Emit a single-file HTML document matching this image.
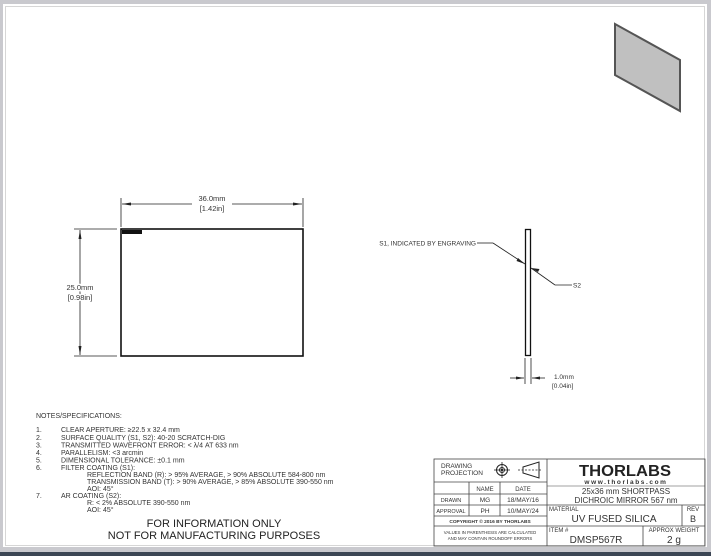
<!DOCTYPE html>
<html><head><meta charset="utf-8"><style>
html,body{margin:0;padding:0;background:#c9c9ce;}
svg{display:block;font-family:"Liberation Sans",sans-serif;}
</style></head><body>
<svg width="711" height="556" viewBox="0 0 711 556" xmlns="http://www.w3.org/2000/svg">
<rect x="0" y="0" width="711" height="556" fill="#c9c9ce"/>
<rect x="3" y="4" width="704" height="543" fill="#fff"/>
<rect x="0" y="552" width="711" height="4" fill="#3c4654"/>
<rect x="5.5" y="6.5" width="699" height="539" fill="none" stroke="#d6d6d6" stroke-width="1"/>

<!-- iso view -->
<polygon points="615,24 680,60 680,111 615,75" fill="#c0c0c0" stroke="#555" stroke-width="2"/>

<!-- front view -->
<rect x="121" y="229" width="182" height="127" fill="none" stroke="#111" stroke-width="1.6"/>
<rect x="122" y="230" width="20" height="4" fill="#111"/>
<g stroke="#222" stroke-width="0.8" fill="none">
<line x1="121" y1="198" x2="121" y2="227"/>
<line x1="303" y1="198" x2="303" y2="227"/>
<line x1="122" y1="204" x2="192" y2="204"/>
<line x1="232" y1="204" x2="302" y2="204"/>
<line x1="74" y1="229" x2="117" y2="229"/>
<line x1="74" y1="356" x2="117" y2="356"/>
<line x1="80" y1="230" x2="80" y2="355"/>
</g>
<g fill="#222">
<polygon points="122,204 131,202.5 131,205.5"/>
<polygon points="302,204 293,202.5 293,205.5"/>
<polygon points="80,230 78.5,239 81.5,239"/>
<polygon points="80,355 78.5,346 81.5,346"/>
</g>
<g font-size="7.5" fill="#333" text-anchor="middle">
<text x="212" y="201">36.0mm</text>
<text x="212" y="211">[1.42in]</text>
<text x="80" y="290" fill="#333" style="paint-order:stroke" stroke="#fff" stroke-width="3">25.0mm</text>
<text x="80" y="300" style="paint-order:stroke" stroke="#fff" stroke-width="3">[0.98in]</text>
</g>

<!-- side view -->
<rect x="525.5" y="229.5" width="5" height="126" fill="#fff" stroke="#111" stroke-width="1.3"/>
<g stroke="#222" stroke-width="0.8" fill="none">
<line x1="477" y1="243" x2="493" y2="243"/>
<line x1="493" y1="243" x2="525" y2="264"/>
<line x1="531" y1="268" x2="555" y2="285"/>
<line x1="555" y1="285" x2="572" y2="285"/>
<line x1="525" y1="358" x2="525" y2="384"/>
<line x1="531" y1="358" x2="531" y2="384"/>
<line x1="510" y1="378" x2="524" y2="378"/>
<line x1="532" y1="378" x2="545" y2="378"/>
</g>
<g fill="#222">
<polygon points="525,264 518,258 516.5,261"/>
<polygon points="531,268 538,272 539.5,269"/>
<polygon points="524,378 516,376.5 516,379.5"/>
<polygon points="532,378 540,376.5 540,379.5"/>
</g>
<g font-size="6.5" fill="#333">
<text x="476" y="245.5" text-anchor="end">S1, INDICATED BY ENGRAVING</text>
<text x="573" y="287.5">S2</text>
<text x="554" y="379">1.0mm</text>
<text x="552" y="388">[0.04in]</text>
</g>

<!-- notes -->
<g font-size="7" fill="#333">
<text x="36" y="418">NOTES/SPECIFICATIONS:</text>
<text x="36" y="432">1.</text><text x="61" y="432">CLEAR APERTURE: ≥22.5 x 32.4 mm</text>
<text x="36" y="440">2.</text><text x="61" y="440">SURFACE QUALITY (S1, S2): 40-20 SCRATCH-DIG</text>
<text x="36" y="447.5">3.</text><text x="61" y="447.5">TRANSMITTED WAVEFRONT ERROR: &lt; λ/4 AT 633 nm</text>
<text x="36" y="455">4.</text><text x="61" y="455">PARALLELISM: &lt;3 arcmin</text>
<text x="36" y="462.5">5.</text><text x="61" y="462.5">DIMENSIONAL TOLERANCE: ±0.1 mm</text>
<text x="36" y="470">6.</text><text x="61" y="470">FILTER COATING (S1):</text>
<text x="87" y="477">REFLECTION BAND (R): &gt; 95% AVERAGE, &gt; 90% ABSOLUTE 584-800 nm</text>
<text x="87" y="484">TRANSMISSION BAND (T): &gt; 90% AVERAGE, &gt; 85% ABSOLUTE 390-550 nm</text>
<text x="87" y="491">AOI: 45°</text>
<text x="36" y="498">7.</text><text x="61" y="498">AR COATING (S2):</text>
<text x="87" y="505">R: &lt; 2% ABSOLUTE 390-550 nm</text>
<text x="87" y="512">AOI: 45°</text>
</g>
<g font-size="11" fill="#222" text-anchor="middle">
<text x="214" y="527">FOR INFORMATION ONLY</text>
<text x="214" y="539">NOT FOR MANUFACTURING PURPOSES</text>
</g>

<!-- title block -->
<g stroke="#444" stroke-width="0.8" fill="none">
<rect x="434" y="459" width="271" height="87"/>
<line x1="547" y1="459" x2="547" y2="546"/>
<line x1="434" y1="482" x2="547" y2="482"/>
<line x1="434" y1="494" x2="547" y2="494"/>
<line x1="434" y1="505" x2="547" y2="505"/>
<line x1="434" y1="516" x2="547" y2="516"/>
<line x1="434" y1="526" x2="547" y2="526"/>
<line x1="469" y1="482" x2="469" y2="516"/>
<line x1="500" y1="482" x2="500" y2="516"/>
<line x1="547" y1="486" x2="705" y2="486" stroke-width="0.5"/>
<line x1="547" y1="505" x2="705" y2="505"/>
<line x1="547" y1="526" x2="705" y2="526"/>
<line x1="682" y1="505" x2="682" y2="526"/>
<line x1="643" y1="526" x2="643" y2="546"/>
<circle cx="502" cy="470" r="5.5" stroke="#222" stroke-width="1"/>
<circle cx="502" cy="470" r="2.5" stroke="#222" stroke-width="1"/>
<line x1="494" y1="470" x2="510" y2="470" stroke="#222"/>
<line x1="502" y1="462" x2="502" y2="478" stroke="#222"/>
<polygon points="523,467 539,462 539,478 523,473" stroke="#222" stroke-width="1"/>
<line x1="518" y1="470" x2="541" y2="470" stroke="#222" stroke-dasharray="2,1.5"/>
</g>
<circle cx="502" cy="470" r="1.2" fill="#222"/>
<g fill="#333">
<text x="441" y="468" font-size="6.5">DRAWING</text>
<text x="441" y="475" font-size="6.5">PROJECTION</text>
<text x="485" y="491" font-size="6" text-anchor="middle">NAME</text>
<text x="523" y="491" font-size="6" text-anchor="middle">DATE</text>
<text x="451" y="502" font-size="5.5" text-anchor="middle">DRAWN</text>
<text x="485" y="502" font-size="6.5" text-anchor="middle">MG</text>
<text x="523" y="502" font-size="6.5" text-anchor="middle">18/MAY/16</text>
<text x="451" y="513" font-size="5.5" text-anchor="middle">APPROVAL</text>
<text x="485" y="513" font-size="6.5" text-anchor="middle">PH</text>
<text x="523" y="513" font-size="6.5" text-anchor="middle">10/MAY/24</text>
<text x="490" y="523" font-size="4.8" font-weight="bold" text-anchor="middle">COPYRIGHT © 2016 BY THORLABS</text>
<text x="490" y="534" font-size="4.3" text-anchor="middle">VALUES IN PARENTHESIS ARE CALCULATED</text>
<text x="490" y="540" font-size="4.3" text-anchor="middle">AND MAY CONTAIN ROUNDOFF ERRORS</text>
<text x="625" y="476" font-size="16" font-weight="bold" text-anchor="middle" fill="#222" textLength="92" lengthAdjust="spacingAndGlyphs">THORLABS</text>
<text x="626" y="484" font-size="6.5" font-weight="bold" text-anchor="middle" letter-spacing="1.6">www.thorlabs.com</text>
<text x="626" y="494" font-size="8" text-anchor="middle">25x36 mm SHORTPASS</text>
<text x="626" y="503" font-size="8" text-anchor="middle">DICHROIC MIRROR 567 nm</text>
<text x="549" y="511" font-size="6">MATERIAL</text>
<text x="614" y="522" font-size="10" text-anchor="middle">UV FUSED SILICA</text>
<text x="693" y="511" font-size="6" text-anchor="middle">REV</text>
<text x="693" y="522" font-size="9" text-anchor="middle">B</text>
<text x="549" y="532" font-size="6">ITEM #</text>
<text x="596" y="543" font-size="10" text-anchor="middle">DMSP567R</text>
<text x="674" y="532" font-size="6" text-anchor="middle">APPROX WEIGHT</text>
<text x="674" y="543" font-size="10" text-anchor="middle">2 g</text>
</g>
</svg>
</body></html>
